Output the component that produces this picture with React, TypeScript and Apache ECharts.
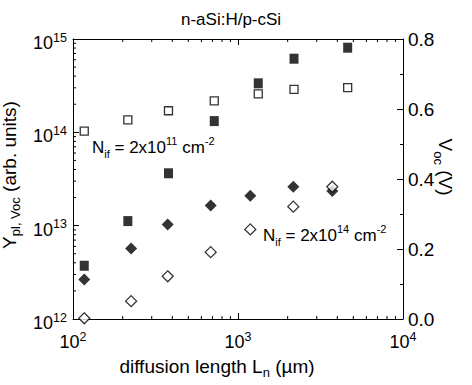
import React, { useEffect, useRef } from "react";
import * as echarts from "echarts";

// diffusion length L_n (µm)
const lengthsSquares = [117, 215, 379, 718, 1327, 2185, 4620];
const lengthsDiamonds = [117, 225, 375, 683, 1187, 2164, 3728];
// N_if = 2x10^11 cm^-2
const yplGood = [3.72e12, 1.12e13, 3.64e13, 1.32e14, 3.35e14, 6.15e14, 8.07e14];
const vocGood = [0.537, 0.569, 0.595, 0.623, 0.643, 0.656, 0.661];
// N_if = 2x10^14 cm^-2
const yplBad = [2.65e12, 5.69e12, 1.03e13, 1.64e13, 2.09e13, 2.62e13, 2.35e13];
const vocBad = [0.002, 0.051, 0.122, 0.191, 0.256, 0.321, 0.378];

const xMinorTicks = [200, 300, 400, 500, 600, 700, 800, 900, 2000, 3000, 4000, 5000, 6000, 7000, 8000, 9000];
const yMinorTicks = [
  2e12, 3e12, 4e12, 5e12, 6e12, 7e12, 8e12, 9e12,
  2e13, 3e13, 4e13, 5e13, 6e13, 7e13, 8e13, 9e13,
  2e14, 3e14, 4e14, 5e14, 6e14, 7e14, 8e14, 9e14,
];

const FONT = "'Liberation Sans', Arial, sans-serif";
const BLACK = "#000";

const powRich = {
  b: { fontSize: 18, lineHeight: 24, fontFamily: FONT, color: BLACK },
  s: { fontSize: 12.5, verticalAlign: "top", fontFamily: FONT, color: BLACK },
};
const powLabel = (v: number) => `{b|10}{s|${Math.round(Math.log10(v))}}`;

const nameRich = {
  t: { fontSize: 19, lineHeight: 26, fontFamily: FONT, color: BLACK },
  sub: { fontSize: 13, verticalAlign: "bottom", fontFamily: FONT, color: BLACK },
};
const annRich = {
  b: { fontSize: 17, lineHeight: 24, fontFamily: FONT, color: BLACK },
  sub: { fontSize: 11, verticalAlign: "bottom", fontFamily: FONT, color: BLACK },
  sup: { fontSize: 11, verticalAlign: "top", fontFamily: FONT, color: BLACK },
};

const axisLine = { show: true, onZero: false, lineStyle: { color: BLACK, width: 1 } };
const tickStyle = { color: BLACK, width: 1 };

export default function App() {
  const ref = useRef<HTMLDivElement>(null);
  useEffect(() => {
    if (!ref.current) return;
    const chart = echarts.init(ref.current, undefined, { renderer: "svg" });
    const sq = lengthsSquares;
    const di = lengthsDiamonds;
    chart.setOption({
      animation: false,
      backgroundColor: "#fff",
      title: {
        text: "n-aSi:H/p-cSi",
        left: 181,
        top: 11,
        padding: 0,
        textStyle: { fontSize: 17, fontWeight: "normal", fontFamily: FONT, color: BLACK },
      },
      grid: { left: 73, right: 69, top: 39, bottom: 66, containLabel: false, outerBoundsMode: "none" },
      xAxis: [
        {
          type: "log",
          logBase: 10,
          min: 100,
          max: 10000,
          position: "bottom",
          axisLine,
          axisTick: { inside: true, length: 6, lineStyle: tickStyle },
          splitLine: { show: false },
          axisLabel: { margin: 11, formatter: powLabel, rich: powRich },
          name: "{t|diffusion length L}{sub|n}{t| (µm)}",
          nameLocation: "middle",
          nameGap: 34,
          nameTextStyle: { rich: nameRich, padding: [0, 42, 0, 0] },
        },
        {
          type: "log",
          logBase: 10,
          min: 100,
          max: 10000,
          position: "top",
          axisLine,
          axisTick: { inside: true, length: 6, lineStyle: tickStyle },
          splitLine: { show: false },
          axisLabel: { show: false },
        },
      ],
      yAxis: [
        {
          type: "log",
          logBase: 10,
          min: 1e12,
          max: 1e15,
          position: "left",
          axisLine,
          axisTick: { inside: true, length: 6, lineStyle: tickStyle },
          splitLine: { show: false },
          axisLabel: { margin: 6, formatter: powLabel, rich: powRich, padding: [8, 0, 0, 0] },
          name: "{t|Y}{sub|pl, Voc}{t| (arb. units)}",
          nameLocation: "middle",
          nameRotate: 90,
          nameGap: 40,
          nameTextStyle: { rich: nameRich, padding: [0, 0, 0, 8] },
        },
        {
          type: "value",
          min: 0,
          max: 0.8,
          interval: 0.2,
          position: "right",
          axisLine,
          axisTick: { inside: true, length: 6, lineStyle: tickStyle },
          minorTick: { show: true, splitNumber: 2, length: 3, lineStyle: tickStyle },
          splitLine: { show: false },
          axisLabel: {
            margin: 5,
            formatter: (v: number) => v.toFixed(1),
            fontSize: 19,
            fontFamily: FONT,
            color: BLACK,
          },
        },
      ],
      graphic: [
        {
          type: "text",
          x: 445,
          y: 167,
          rotation: -Math.PI / 2,
          style: {
            text: "{t|V}{sub|oc}{t| (V)}",
            rich: nameRich,
            align: "center",
            verticalAlign: "middle",
          },
        },
        {
          type: "text",
          x: 92,
          y: 147,
          style: {
            text: "{b|N}{sub|if}{b| = 2x10}{sup|11}{b| cm}{sup|-2}",
            rich: annRich,
            align: "left",
            verticalAlign: "middle",
          },
        },
        {
          type: "text",
          x: 263,
          y: 235,
          style: {
            text: "{b|N}{sub|if}{b| = 2x10}{sup|14}{b| cm}{sup|-2}",
            rich: annRich,
            align: "left",
            verticalAlign: "middle",
          },
        },
      ],
      series: [
        {
          type: "custom",
          xAxisIndex: 0,
          yAxisIndex: 0,
          silent: true,
          clip: false,
          data: [
            ...xMinorTicks.map((v) => [v, 1e12, 0]),
            ...yMinorTicks.map((v) => [100, v, 1]),
          ],
          renderItem: (_p: any, api: any) => {
            const kind = api.value(2);
            const st = { stroke: BLACK, lineWidth: 1 };
            if (kind === 0) {
              const b = api.coord([api.value(0), 1e12]);
              const t = api.coord([api.value(0), 1e15]);
              return {
                type: "group",
                children: [
                  { type: "line", shape: { x1: b[0], y1: b[1], x2: b[0], y2: b[1] - 3 }, style: st },
                  { type: "line", shape: { x1: t[0], y1: t[1], x2: t[0], y2: t[1] + 3 }, style: st },
                ],
              };
            }
            const l = api.coord([100, api.value(1)]);
            return { type: "line", shape: { x1: l[0], y1: l[1], x2: l[0] + 3, y2: l[1] }, style: st };
          },
        },
        {
          name: "Ypl Nif=2e11",
          type: "scatter",
          xAxisIndex: 0,
          yAxisIndex: 0,
          symbol: "rect",
          symbolSize: [9, 10],
          clip: false,
          itemStyle: { color: BLACK },
          data: sq.map((x, i) => [x, yplGood[i]]),
        },
        {
          name: "Voc Nif=2e11",
          type: "scatter",
          xAxisIndex: 0,
          yAxisIndex: 1,
          symbol: "rect",
          symbolSize: 8,
          clip: false,
          itemStyle: { color: "#fff", borderColor: BLACK, borderWidth: 1.3 },
          data: sq.map((x, i) => [x, vocGood[i]]),
        },
        {
          name: "Ypl Nif=2e14",
          type: "scatter",
          xAxisIndex: 0,
          yAxisIndex: 0,
          symbol: "diamond",
          symbolSize: 12,
          clip: false,
          itemStyle: { color: BLACK },
          data: di.map((x, i) => [x, yplBad[i]]),
        },
        {
          name: "Voc Nif=2e14",
          type: "scatter",
          xAxisIndex: 0,
          yAxisIndex: 1,
          symbol: "diamond",
          symbolSize: 11,
          clip: false,
          itemStyle: { color: "#fff", borderColor: BLACK, borderWidth: 1.3 },
          data: di.map((x, i) => [x, vocBad[i]]),
        },
      ],
    });
    return () => chart.dispose();
  }, []);
  return (
    <div
      ref={ref}
      style={{ position: "absolute", left: 0, top: 0, width: 472, height: 385 }}
    />
  );
}
